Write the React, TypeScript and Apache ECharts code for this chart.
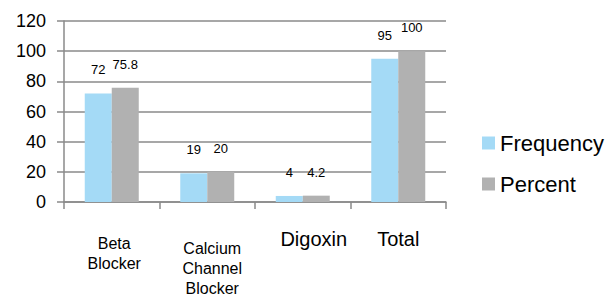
import React, { useEffect, useRef } from "react";
import * as echarts from "echarts";

const categories = ["Beta Blocker", "Calcium Channel Blocker", "Digoxin", "Total"];
const frequency = [72, 19, 4, 95];
const percent = [75.8, 20, 4.2, 100];
const yTicks = [0, 20, 40, 60, 80, 100, 120];

const FONT = "'Liberation Sans', Arial, Helvetica, sans-serif";

export default function App() {
  const ref = useRef<HTMLDivElement>(null);
  useEffect(() => {
    if (!ref.current) return;
    const chart = echarts.init(ref.current, null, { renderer: "svg" });
    const labelFmt = (v: string) => {
      if (v === "Beta Blocker") return "{s|Beta}\n{s|Blocker}";
      if (v === "Calcium Channel Blocker") return "{c|Calcium}\n{c|Channel}\n{c|Blocker}";
      if (v === "Digoxin") return "{d|" + v + "}";
      return "{t|" + v + "}";
    };
    chart.setOption({
      animation: false,
      textStyle: { fontFamily: FONT },
      grid: { left: 64, right: 165, top: 21, bottom: 92 },
      legend: {
        orient: "vertical",
        left: 477,
        top: 127,
        itemWidth: 13,
        itemHeight: 13,
        itemGap: 19,
        textStyle: { fontSize: 22, color: "#000", fontFamily: FONT, padding: [0, 0, 0, 0] },
        data: [
          { name: "Frequency", icon: "rect" },
          { name: "Percent", icon: "rect" },
        ],
      },
      xAxis: {
        type: "category",
        data: categories,
        axisLine: { lineStyle: { color: "#8a8a8a", width: 1.5 } },
        axisTick: { show: true, length: 7, lineStyle: { color: "#8a8a8a", width: 1.5 } },
        axisLabel: {
          interval: 0,
          margin: 22,
          color: "#000",
          formatter: labelFmt,
          rich: {
            s: { fontSize: 16, lineHeight: 20, fontFamily: FONT, padding: [19, 0, 0, 5] },
            c: { fontSize: 16, lineHeight: 20, fontFamily: FONT, padding: [28, 0, 0, 10] },
            d: { fontSize: 20, lineHeight: 20, fontFamily: FONT, padding: [9, 0, 0, 22] },
            t: { fontSize: 20, lineHeight: 20, fontFamily: FONT, padding: [9, 0, 0, 0] },
          },
        },
      },
      yAxis: {
        type: "value",
        min: 0,
        max: 120,
        interval: 20,
        axisLine: { show: true, lineStyle: { color: "#8a8a8a", width: 1.5 } },
        axisTick: { show: true, length: 7, lineStyle: { color: "#8a8a8a", width: 1.5 } },
        splitLine: { show: true, lineStyle: { color: "#8a8a8a", width: 1.5 } },
        axisLabel: {
          fontSize: 18,
          color: "#000",
          margin: 18,
          fontFamily: FONT,
          formatter: (v: number) => (yTicks.includes(v) ? String(v) : ""),
        },
      },
      series: [
        {
          name: "Frequency",
          type: "bar",
          data: frequency,
          barWidth: 27,
          barGap: "0%",
          itemStyle: { color: "#A4DAF6" },
          label: { show: true, position: "top", distance: 17, fontSize: 13, color: "#000", fontFamily: FONT },
        },
        {
          name: "Percent",
          type: "bar",
          data: percent,
          barWidth: 27,
          barGap: "0%",
          itemStyle: { color: "#B1B1B1" },
          label: { show: true, position: "top", distance: 17, fontSize: 13, color: "#000", fontFamily: FONT },
        },
      ],
    });
    return () => chart.dispose();
  }, []);
  return <div ref={ref} style={{ width: 611, height: 296, position: "absolute", left: 0, top: 0 }} />;
}
